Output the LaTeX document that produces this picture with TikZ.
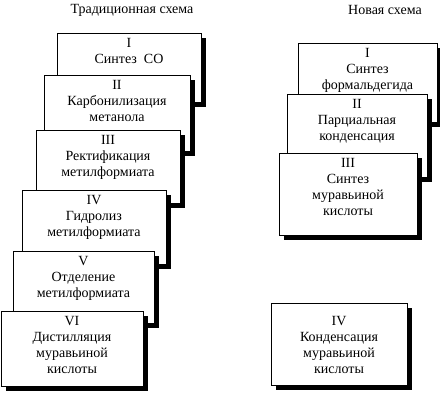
\documentclass[tikz,border=0pt]{standalone}
\usepackage{fontspec}
\setmainfont{Liberation Serif}
\usetikzlibrary{shadows}
\begin{document}
\begin{tikzpicture}[x=0.75pt,y=-0.75pt,
  stage/.style={draw=black, fill=white, line width=0.6pt, inner sep=0pt, outer sep=0pt,
    drop shadow={shadow xshift=3.9pt, shadow yshift=-3.9pt, fill=black, opacity=1}},
  lbl/.style={anchor=north, align=center, inner sep=0pt, font=\fontsize{10.5}{12}\selectfont},
  ttl/.style={inner sep=0pt, font=\fontsize{10.5}{12}\selectfont}]
\useasboundingbox (0,0) rectangle (440,401);
% titles
\node[ttl] (t1) at (132,10) {Традиционная схема};
\node[ttl] (t2) at (385,10) {Новая схема};
% traditional scheme
\node[stage, minimum width=108pt, minimum height=51.75pt] (L1) at (129,67.5) {};
\node[lbl] at ([yshift=-4pt]L1.north) {I\\Синтез~ СО};
\node[stage, minimum width=109.5pt, minimum height=57pt] (L2) at (117,113) {};
\node[lbl] at ([yshift=-4pt]L2.north) {II\\Карбонилизация\\метанола};
\node[stage, minimum width=108pt, minimum height=54.75pt] (L3) at (108,166.5) {};
\node[lbl] at ([yshift=-4pt]L3.north) {III\\Ректификация\\метилформиата};
\node[stage, minimum width=108pt, minimum height=55.5pt] (L4) at (94,227) {};
\node[lbl] at ([yshift=-4pt]L4.north) {IV\\Гидролиз\\метилформиата};
\node[stage, minimum width=105.75pt, minimum height=54pt] (L5) at (83.5,287) {};
\node[lbl] at ([yshift=-4pt]L5.north) {V\\Отделение\\метилформиата};
\node[stage, minimum width=106.5pt, minimum height=56.25pt] (L6) at (72,348.5) {};
\node[lbl] at ([yshift=-4pt]L6.north) {VI\\Дистилляция\\муравьиной\\кислоты};
% new scheme
\node[stage, minimum width=104.25pt, minimum height=59.25pt] (R1) at (367.5,82.5) {};
\node[lbl] at ([yshift=-4pt]R1.north) {I\\Синтез\\формальдегида};
\node[stage, minimum width=105pt, minimum height=62.25pt] (R2) at (357,135.5) {};
\node[lbl] at ([yshift=-4pt]R2.north) {II\\Парциальная\\конденсация};
\node[stage, minimum width=103.5pt, minimum height=61.5pt] (R3) at (348,194) {};
\node[lbl] at ([yshift=-4pt]R3.north) {III\\Синтез\\муравьиной\\кислоты};
\node[stage, minimum width=102pt, minimum height=61.5pt] (R4) at (339,344) {};
\node[lbl] at ([yshift=-10pt]R4.north) {IV\\Конденсация\\муравьиной\\кислоты};
\end{tikzpicture}
\end{document}
